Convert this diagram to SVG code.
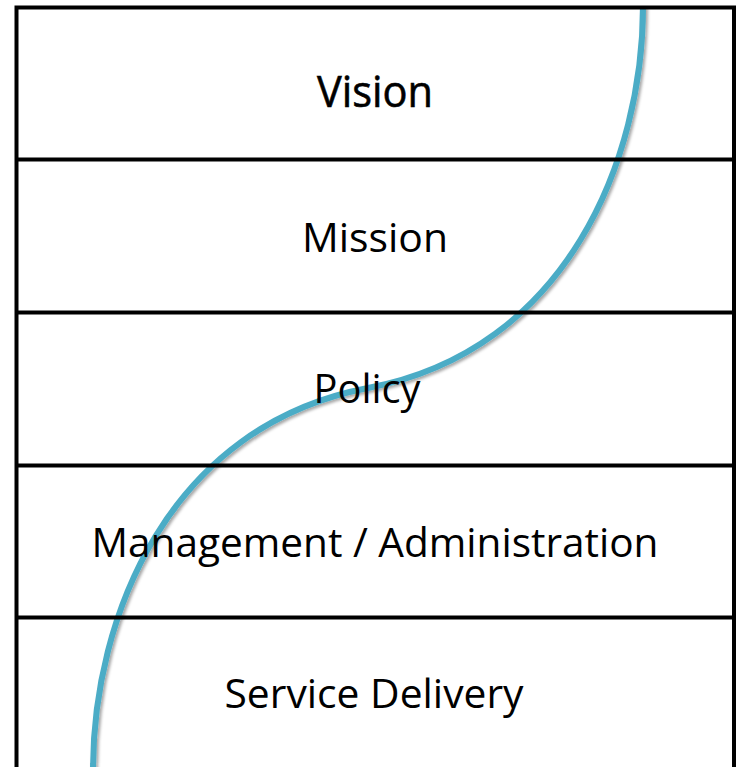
<svg xmlns="http://www.w3.org/2000/svg" width="738" height="767" viewBox="0 0 738 767">
  <defs>
    <filter id="shadow" x="-20%" y="-20%" width="140%" height="140%">
      <feDropShadow dx="2" dy="2" stdDeviation="1.5" flood-color="#000" flood-opacity="0.35"/>
    </filter>
  </defs>
  <style>
    .row { fill: none; stroke: #000; stroke-width: 4; }
    .lbl { font-family: "Open Sans", "Noto Sans", sans-serif; font-size: 41px; fill: #000; text-anchor: middle; }
    .curve { fill: none; stroke: #4BACC6; stroke-width: 6; filter: url(#shadow); }
  </style>
  <rect x="0" y="0" width="738" height="767" fill="#fff"/>
  <g id="connectors">
    <path class="curve" d="M643,6 C643,158 568,350 368,388 S93,618 93,770"/>
  </g>
  <g id="frame">
    <path class="row" d="M16.5,775 L16.5,7.5 L734,7.5 L734,775"/>
  </g>
  <g id="vision">
    <text class="lbl" x="375" y="107" style="font-size:44px; stroke:#000; stroke-width:0.6px" textLength="116" lengthAdjust="spacingAndGlyphs">Vision</text>
  </g>
  <g id="mission">
    <line class="row" x1="16.5" y1="159.5" x2="734" y2="159.5"/>
    <text class="lbl" x="375" y="252" textLength="146" lengthAdjust="spacingAndGlyphs">Mission</text>
  </g>
  <g id="policy">
    <line class="row" x1="16.5" y1="312.5" x2="734" y2="312.5"/>
    <text class="lbl" x="367" y="403" textLength="107" lengthAdjust="spacingAndGlyphs">Policy</text>
  </g>
  <g id="management">
    <line class="row" x1="16.5" y1="465.5" x2="734" y2="465.5"/>
    <text class="lbl" x="375" y="557" textLength="567" lengthAdjust="spacingAndGlyphs">Management / Administration</text>
  </g>
  <g id="service-delivery">
    <line class="row" x1="16.5" y1="617.5" x2="734" y2="617.5"/>
    <text class="lbl" x="374" y="708" textLength="299" lengthAdjust="spacingAndGlyphs">Service Delivery</text>
  </g>
</svg>
